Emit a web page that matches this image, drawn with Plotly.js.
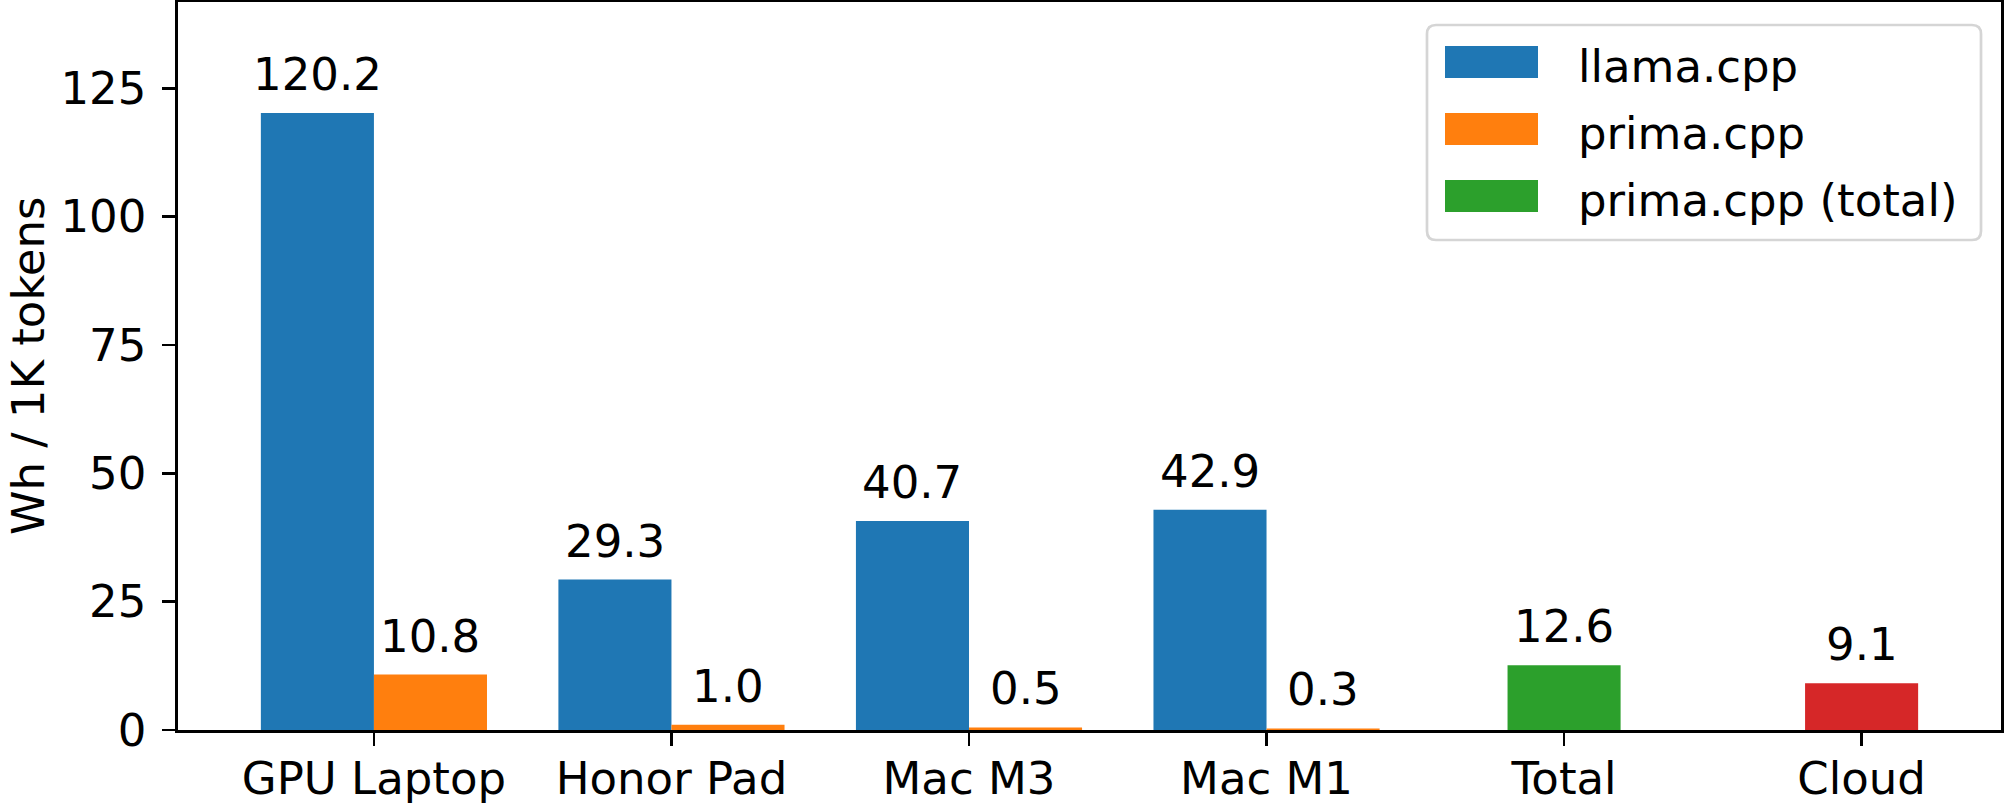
<!DOCTYPE html>
<html><head><meta charset="utf-8">
<script src="https://cdn.plot.ly/plotly-3.0.1.min.js"></script>
<style>html,body{margin:0;padding:0;background:#fff}#chart{width:2004px;height:804px}</style>
</head><body><div id="chart"></div>
<script>
// ---- data ----
const categories = ["GPU Laptop", "Honor Pad", "Mac M3", "Mac M1", "Total", "Cloud"];
const deviceCategories = ["GPU Laptop", "Honor Pad", "Mac M3", "Mac M1"];
const llamaValues = [120.2, 29.3, 40.7, 42.9];
const primaValues = [10.8, 1.0, 0.5, 0.3];
const totalCategories = ["Total"];
const totalValues = [12.6];
const cloudCategories = ["Cloud"];
const cloudValues = [9.1];
const seriesNames = ["llama.cpp", "prima.cpp", "prima.cpp (total)"];
const yTickVals = [0, 25, 50, 75, 100, 125];
const yTitle = "Wh / 1K tokens";

// ---- style ----
const colors = ["#1f77b4", "#ff7f0e", "#2ca02c", "#d62728"];
const FONT = "DejaVu Sans";
const FS = 45;
const BW = 0.38;
const L = 178, R = 2001, T = 2, B = 730;
const W = R - L, H = B - T;

const idx = c => categories.indexOf(c);

const traces = [
  {type: "bar", name: seriesNames[0], x: deviceCategories.map(idx), y: llamaValues,
   width: BW, offset: -BW, marker: {color: colors[0]}, showlegend: false, hoverinfo: "skip"},
  {type: "bar", name: seriesNames[1], x: deviceCategories.map(idx), y: primaValues,
   width: BW, offset: 0, marker: {color: colors[1]}, showlegend: false, hoverinfo: "skip"},
  {type: "bar", name: seriesNames[2], x: totalCategories.map(idx), y: totalValues,
   width: BW, offset: -BW / 2, marker: {color: colors[2]}, showlegend: false, hoverinfo: "skip"},
  {type: "bar", name: "Cloud", x: cloudCategories.map(idx), y: cloudValues,
   width: BW, offset: -BW / 2, marker: {color: colors[3]}, showlegend: false, hoverinfo: "skip"}
];

// value labels above bars
const annotations = [];
traces.forEach(t => {
  t.x.forEach((xv, i) => {
    annotations.push({
      xref: "x", yref: "y", x: xv + t.offset + BW / 2, y: t.y[i],
      text: t.y[i].toFixed(1), showarrow: false, xanchor: "center", yanchor: "bottom",
      yshift: 11, borderpad: 0, font: {family: FONT, size: FS, color: "#000"}
    });
  });
});

// custom legend (matplotlib-like)
const px2x = p => (p - L) / W;
const px2y = p => (B - p) / H;
function rr(x0, y0, x1, y1, r) {
  const X = p => px2x(p).toFixed(5), Y = p => px2y(p).toFixed(5);
  return `M${X(x0 + r)},${Y(y0)} L${X(x1 - r)},${Y(y0)} Q${X(x1)},${Y(y0)} ${X(x1)},${Y(y0 + r)} ` +
         `L${X(x1)},${Y(y1 - r)} Q${X(x1)},${Y(y1)} ${X(x1 - r)},${Y(y1)} L${X(x0 + r)},${Y(y1)} ` +
         `Q${X(x0)},${Y(y1)} ${X(x0)},${Y(y1 - r)} L${X(x0)},${Y(y0 + r)} Q${X(x0)},${Y(y0)} ${X(x0 + r)},${Y(y0)} Z`;
}
const shapes = [{
  type: "path", xref: "paper", yref: "paper", path: rr(1427, 25, 1981, 240, 9),
  line: {color: "#d5d5d5", width: 2.7}, fillcolor: "rgba(255,255,255,0.8)", layer: "above"
}];
const legTop = 46, legStep = 67, swH = 32;
seriesNames.forEach((nm, i) => {
  const y0 = legTop + i * legStep;
  shapes.push({
    type: "rect", xref: "paper", yref: "paper",
    x0: px2x(1445), x1: px2x(1538), y0: px2y(y0), y1: px2y(y0 + swH),
    fillcolor: colors[i], line: {width: 0}, layer: "above"
  });
  annotations.push({
    xref: "paper", yref: "paper", x: px2x(1577), y: px2y(y0 + swH / 2 + 4),
    text: nm, showarrow: false, xanchor: "left", yanchor: "middle", borderpad: 0,
    font: {family: FONT, size: FS, color: "#000"}
  });
});

// y-axis title
annotations.push({
  xref: "paper", yref: "paper", x: px2x(28), y: 0.5, text: yTitle, textangle: -90,
  showarrow: false, xanchor: "center", yanchor: "middle", borderpad: 0,
  font: {family: FONT, size: FS, color: "#000"}
});

const allVals = llamaValues.concat(primaValues, totalValues, cloudValues);
const yMax = Math.max(...allVals) * 1.18;

const layout = {
  width: 2004, height: 804,
  margin: {l: L, r: 2004 - R, t: T, b: 804 - B, pad: 0},
  paper_bgcolor: "#fff", plot_bgcolor: "#fff",
  font: {family: FONT, size: FS, color: "#000"},
  barmode: "overlay",
  showlegend: false,
  xaxis: {
    range: [-0.6585, 5.4685], tickmode: "array",
    tickvals: categories.map((c, i) => i), ticktext: categories,
    ticks: "outside", ticklen: 13, tickwidth: 2.7, tickcolor: "#000",
    showline: true, linewidth: 2.7, linecolor: "#000", mirror: true,
    showgrid: false, zeroline: false, ticklabelstandoff: -6,
    tickfont: {family: FONT, size: FS, color: "#000"}
  },
  yaxis: {
    range: [0, yMax], tickmode: "array", tickvals: yTickVals,
    ticktext: yTickVals.map(String),
    ticks: "outside", ticklen: 13, tickwidth: 2.7, tickcolor: "#000",
    showline: true, linewidth: 2.7, linecolor: "#000", mirror: true,
    showgrid: false, zeroline: false, ticklabelstandoff: 7,
    tickfont: {family: FONT, size: FS, color: "#000"}
  },
  shapes: shapes,
  annotations: annotations
};

Plotly.newPlot("chart", traces, layout, {staticPlot: true, displayModeBar: false});
</script>
</body></html>
